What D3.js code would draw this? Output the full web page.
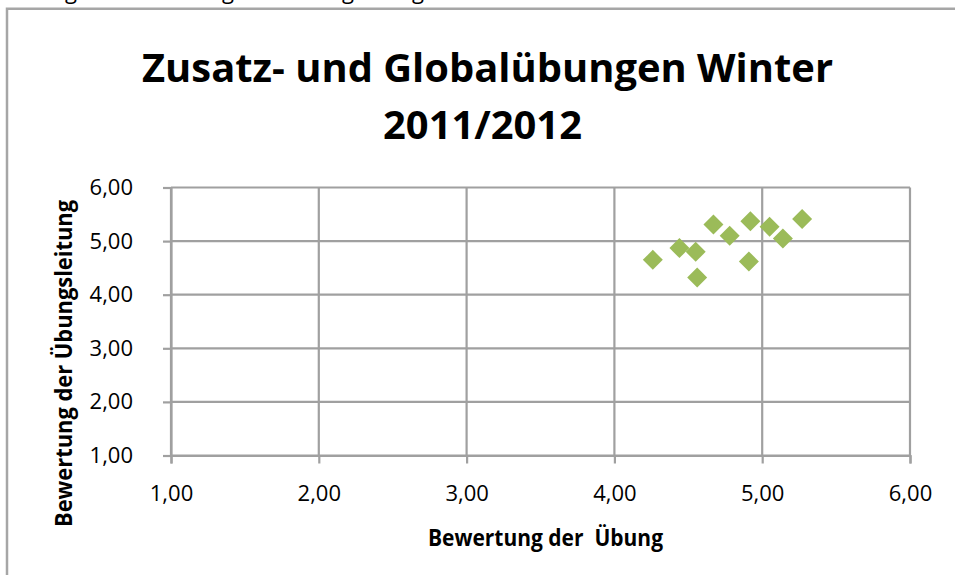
<!DOCTYPE html>
<html>
<head>
<meta charset="utf-8">
<script src="https://cdn.jsdelivr.net/npm/d3@7"></script>
<style>
    body { margin: 0; background: #fff; }
    svg { display: block; font-family: "Open Sans", "Noto Sans", sans-serif; }
</style>
</head>
<body>
<div id="chart"></div>
<script>
// values
var ratingExercise   = [4.26, 4.44, 4.55, 4.56, 4.67, 4.78, 4.92, 4.91, 5.05, 5.14, 5.27];
var ratingInstructor = [4.65, 4.87, 4.80, 4.32, 5.31, 5.10, 5.37, 4.62, 5.27, 5.05, 5.41];
var xTicks = [1, 2, 3, 4, 5, 6];
var yTicks = [1, 2, 3, 4, 5, 6];
var titleLines = ["Zusatz- und Globalübungen Winter", "2011/2012"];
var xTitle = "Bewertung der  Übung";
var yTitle = "Bewertung der Übungsleitung";
// descenders of the line cut off above the chart
var cutLetters = [71, 228, 348, 418];

(function () {
    var width = 955,
        height = 575;

    var points = ratingExercise.map(function (d, i) {
        return {x: d, y: ratingInstructor[i]};
    });

    var de = d3.formatLocale({decimal: ",", thousands: ".", grouping: [3], currency: ["", " €"]});
    var fmt = de.format(".2f");

    var x = d3.scaleLinear().domain([1, 6]).range([171, 910]);
    var y = d3.scaleLinear().domain([1, 6]).range([455.5, 187.5]);

    var svg = d3.select("#chart")
        .append("svg")
        .attr("width", width)
        .attr("height", height);

    // bits of the text above, only the g tails show
    svg.selectAll(".cut")
        .data(cutLetters)
        .enter().append("text")
        .attr("class", "cut")
        .attr("x", function (d) { return d; })
        .attr("y", -1)
        .attr("text-anchor", "middle")
        .style("font-size", "22px")
        .text("g");

    // chart frame (runs off right and bottom)
    svg.append("rect")
        .attr("x", 7)
        .attr("y", 8.75)
        .attr("width", width + 20)
        .attr("height", height + 20)
        .attr("fill", "none")
        .attr("stroke", "#a6a6a6")
        .attr("stroke-width", 2.5);

    // title
    svg.append("text")
        .attr("x", 142)
        .attr("y", 82)
        .attr("textLength", 691)
        .attr("lengthAdjust", "spacingAndGlyphs")
        .style("font-size", "40px")
        .style("font-weight", "bold")
        .text(titleLines[0]);
    svg.append("text")
        .attr("x", 383)
        .attr("y", 139)
        .attr("textLength", 199)
        .attr("lengthAdjust", "spacingAndGlyphs")
        .style("font-size", "40px")
        .style("font-weight", "bold")
        .text(titleLines[1]);

    // gridlines
    var grid = svg.append("g").attr("class", "grid");
    grid.selectAll(".hline")
        .data(yTicks)
        .enter().append("line")
        .attr("x1", x(1)).attr("x2", x(6))
        .attr("y1", function (d) { return y(d); })
        .attr("y2", function (d) { return y(d); });
    grid.selectAll(".vline")
        .data(xTicks)
        .enter().append("line")
        .attr("y1", y(1)).attr("y2", y(6))
        .attr("x1", function (d) { return x(d); })
        .attr("x2", function (d) { return x(d); });
    grid.selectAll("line")
        .attr("stroke", "#a0a0a0")
        .attr("stroke-width", 2.2);

    // axes
    var yAxis = svg.append("g")
        .attr("transform", "translate(" + x(1) + ",0)")
        .call(d3.axisLeft(y).tickValues(yTicks).tickFormat(fmt).tickSize(8).tickPadding(30));
    var xAxis = svg.append("g")
        .attr("transform", "translate(0," + y(1) + ")")
        .call(d3.axisBottom(x).tickValues(xTicks).tickFormat(fmt).tickSize(8).tickPadding(22));

    [xAxis, yAxis].forEach(function (ax) {
        ax.select(".domain").attr("stroke", "#a0a0a0").attr("stroke-width", 2.2);
        ax.selectAll(".tick line").attr("stroke", "#a0a0a0").attr("stroke-width", 2.2);
        ax.selectAll(".tick text")
            .attr("fill", "#000")
            .style("font-family", "'Open Sans', sans-serif")
            .style("font-size", "22px");
    });

    // axis titles
    svg.append("text")
        .attr("x", 428)
        .attr("y", 546)
        .attr("textLength", 235)
        .attr("lengthAdjust", "spacingAndGlyphs")
        .style("white-space", "pre")
        .style("font-size", "23px")
        .style("font-weight", "bold")
        .text(xTitle);

    svg.append("text")
        .attr("transform", "translate(72,527) rotate(-90)")
        .attr("textLength", 327)
        .attr("lengthAdjust", "spacingAndGlyphs")
        .style("font-size", "23px")
        .style("font-weight", "bold")
        .text(yTitle);

    // diamond markers
    var diamond = d3.symbol().type(d3.symbolSquare).size(200);
    svg.selectAll(".pt")
        .data(points)
        .enter().append("path")
        .attr("class", "pt")
        .attr("d", diamond)
        .attr("transform", function (d) {
            return "translate(" + x(d.x) + "," + y(d.y) + ") rotate(45)";
        })
        .attr("fill", "#9bbb59");
})();
</script>
</body>
</html>
